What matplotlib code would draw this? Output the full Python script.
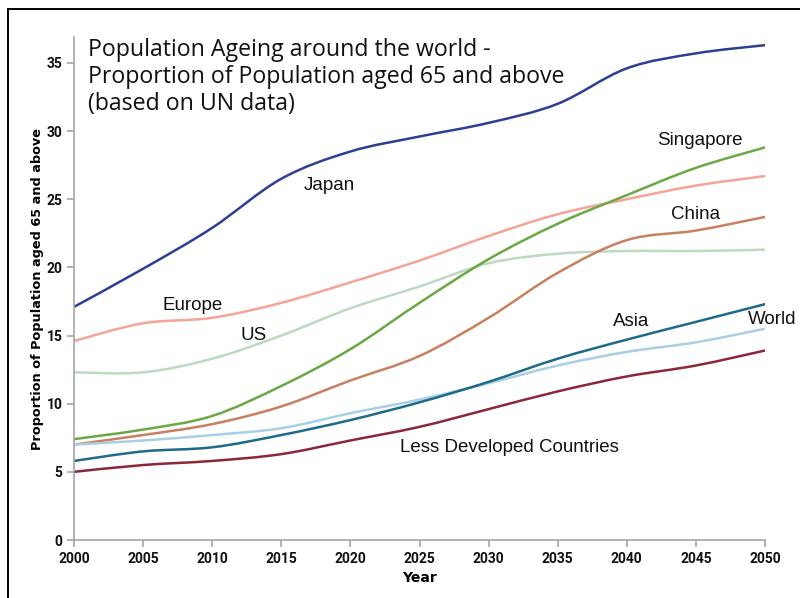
import numpy as np
import matplotlib
matplotlib.use("Agg")
import matplotlib.pyplot as plt
from matplotlib.path import Path
from matplotlib.patches import PathPatch, Rectangle

years = [2000, 2005, 2010, 2015, 2020, 2025, 2030, 2035, 2040, 2045, 2050]

japan = [17.1, 19.9, 22.9, 26.5, 28.5, 29.6, 30.6, 32.0, 34.6, 35.7, 36.3]
europe = [14.6, 15.9, 16.3, 17.4, 18.9, 20.5, 22.3, 23.9, 25.0, 26.0, 26.7]
us = [12.3, 12.3, 13.3, 15.0, 17.0, 18.6, 20.3, 21.0, 21.2, 21.2, 21.3]
singapore = [7.4, 8.1, 9.1, 11.3, 14.0, 17.4, 20.6, 23.2, 25.3, 27.3, 28.8]
china = [7.0, 7.7, 8.5, 9.8, 11.7, 13.5, 16.3, 19.6, 22.0, 22.7, 23.7]
world = [7.0, 7.3, 7.7, 8.2, 9.3, 10.3, 11.5, 12.8, 13.8, 14.5, 15.5]
asia = [5.8, 6.5, 6.8, 7.7, 8.8, 10.1, 11.6, 13.3, 14.7, 16.0, 17.3]
ldc = [5.0, 5.5, 5.8, 6.3, 7.3, 8.3, 9.6, 10.9, 12.0, 12.8, 13.9]

series = [
    ("Japan", japan, "#2c3f93", (2018.5, 26.0)),
    ("Europe", europe, "#f5a497", (2008.6, 17.2)),
    ("US", us, "#bfd8c0", (2013.0, 15.0)),
    ("Singapore", singapore, "#6aa845", (2045.3, 29.3)),
    ("China", china, "#c8805f", (2045.0, 23.9)),
    ("World", world, "#a8cfe3", (2050.5, 16.2)),
    ("Asia", asia, "#1e6a8b", (2040.3, 16.0)),
    ("Less Developed Countries", ldc, "#8c2738", (2031.5, 6.8)),
]


def smooth_path(x, y):
    # Catmull-Rom style cubic Bezier through the points
    pts = np.column_stack([x, y]).astype(float)
    verts = [pts[0]]
    codes = [Path.MOVETO]
    n = len(pts)
    for i in range(n - 1):
        p0 = pts[max(i - 1, 0)]
        p1 = pts[i]
        p2 = pts[i + 1]
        p3 = pts[min(i + 2, n - 1)]
        verts += [p1 + (p2 - p0) / 6, p2 - (p3 - p1) / 6, p2]
        codes += [Path.CURVE4] * 3
    return Path(verts, codes)


fig = plt.figure(figsize=(8, 5.98), dpi=100)
ax = fig.add_axes([74 / 800, 1 - 540 / 598, (765 - 74) / 800, (540 - 37) / 598])

for name, vals, color, pos in series:
    patch = PathPatch(smooth_path(years, vals), fill=False, edgecolor=color,
                      lw=1.8, capstyle="round", joinstyle="round")
    ax.add_patch(patch)
    ax.text(pos[0], pos[1], name, ha="center", va="center", fontsize=13.5,
            family="Liberation Sans", color="#111111")

ax.text(2001.0, 36.8, "Population Ageing around the world -\n"
        "Proportion of Population aged 65 and above\n(based on UN data)",
        ha="left", va="top", fontsize=16.7, family="Open Sans",
        linespacing=1.16, color="#111111")

ax.set_xlim(2000, 2050)
ax.set_ylim(0, 36.9)
ax.set_xticks(range(2000, 2051, 5))
ax.set_yticks(range(0, 36, 5))

for side in ["top", "right"]:
    ax.spines[side].set_visible(False)
for side in ["left", "bottom"]:
    ax.spines[side].set_color("#a6a6a6")
    ax.spines[side].set_linewidth(1.2)
ax.tick_params(colors="#a6a6a6", length=5, width=1.2, labelcolor="#111111",
               labelsize=10)
for lbl in ax.get_xticklabels() + ax.get_yticklabels():
    lbl.set_fontweight("bold")
    lbl.set_family("Roboto")

ax.set_xlabel("Year", fontsize=10, fontweight="bold", family="DejaVu Sans", labelpad=4)
ax.set_ylabel("Proportion of Population aged 65 and above", fontsize=9.3,
              fontweight="bold", family="DejaVu Sans", labelpad=2)

# thin black frame along the top and left edges
fig.patches.append(Rectangle((8 / 800, -0.1), 1.2, 1.1 - 9 / 598, fill=False,
                             edgecolor="black", lw=1.4, transform=fig.transFigure))

fig.savefig("out.png", dpi=100)
